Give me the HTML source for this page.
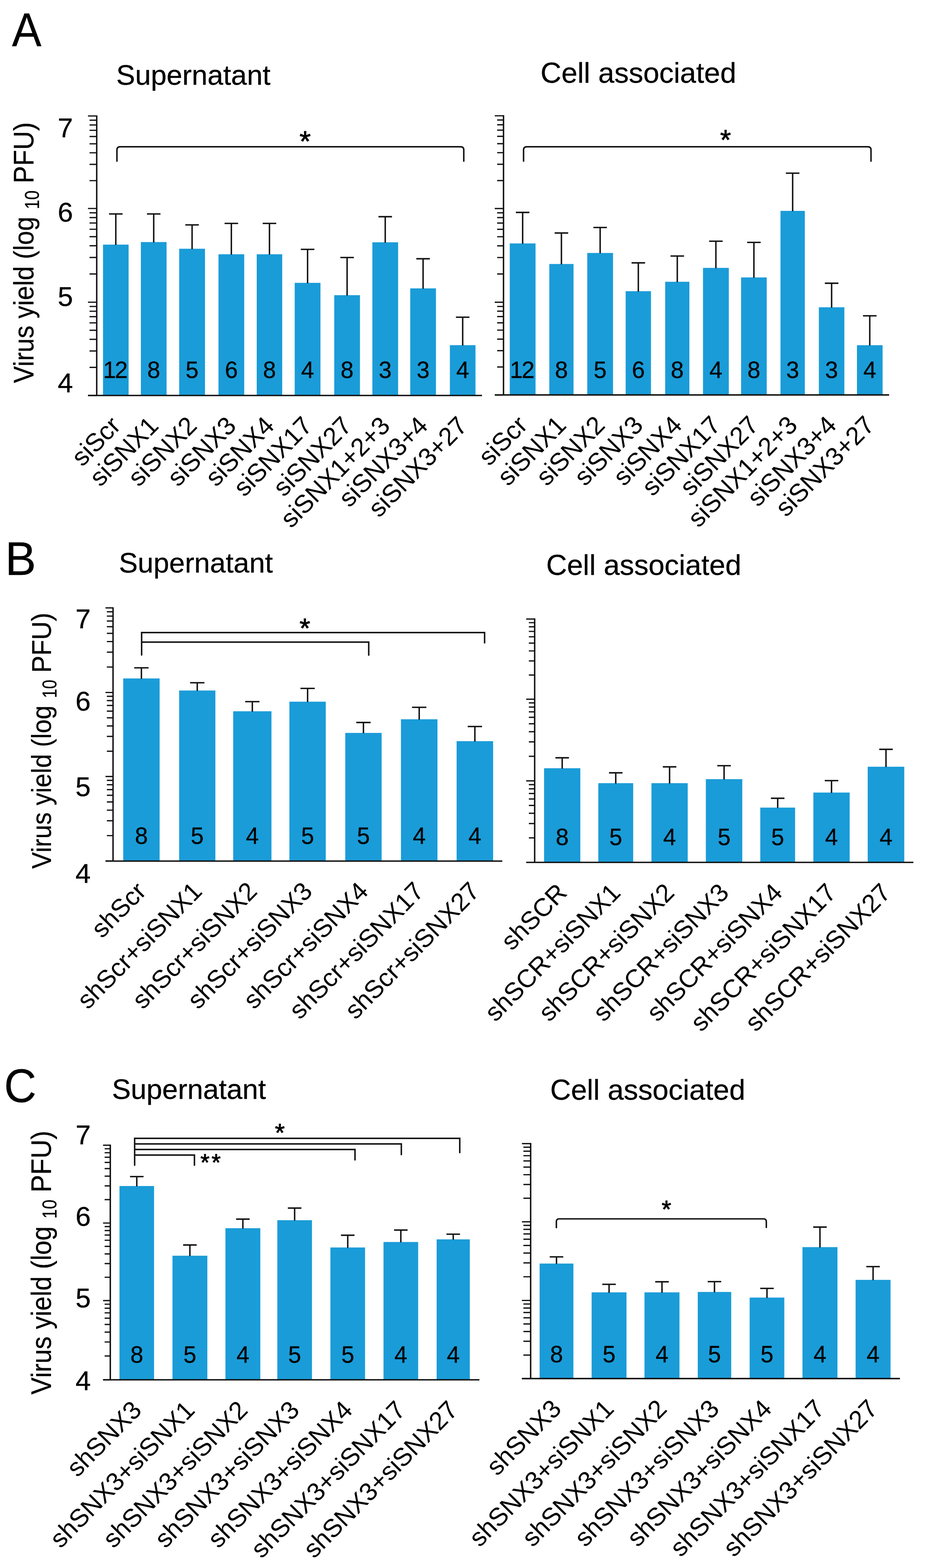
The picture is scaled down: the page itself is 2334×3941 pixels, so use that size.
<!DOCTYPE html>
<html><head><meta charset="utf-8"><style>
html,body{margin:0;padding:0;background:#fff;overflow:hidden;}
svg{display:block;}
</style></head><body>
<svg width="2334" height="3941" viewBox="0 0 2334 3941">
<rect width="2334" height="3941" fill="#fff"/>
<style>.b{stroke:#000;stroke-width:0.4px}</style>
<g font-family="'Liberation Sans', Arial, Helvetica, sans-serif" fill="#000">
<rect x="258.8" y="614.8" width="64.3" height="379.2" fill="#1a9cd8"/>
<rect x="353.9" y="608.4" width="64.6" height="385.6" fill="#1a9cd8"/>
<rect x="450.2" y="625.2" width="64.8" height="368.8" fill="#1a9cd8"/>
<rect x="548.9" y="639.1" width="64.7" height="354.9" fill="#1a9cd8"/>
<rect x="645" y="639.1" width="64" height="354.9" fill="#1a9cd8"/>
<rect x="740.4" y="710.9" width="64.7" height="283.1" fill="#1a9cd8"/>
<rect x="839.7" y="741.9" width="64.7" height="252.1" fill="#1a9cd8"/>
<rect x="935.5" y="609" width="64.7" height="385" fill="#1a9cd8"/>
<rect x="1030.6" y="724.8" width="64.7" height="269.2" fill="#1a9cd8"/>
<rect x="1130.3" y="867.5" width="64.3" height="126.5" fill="#1a9cd8"/>
<path d="M290.95 615.8V537.8M273.95 537.8H307.95M386.2 609.4V537.8M369.2 537.8H403.2M482.6 626.2V565.3M465.6 565.3H499.6M581.25 640.1V561.5M564.25 561.5H598.25M677 640.1V561.5M660 561.5H694M772.75 711.9V626.8M755.75 626.8H789.75M872.05 742.9V647.2M855.05 647.2H889.05M967.85 610V544.6M950.85 544.6H984.85M1062.95 725.8V650.4M1045.95 650.4H1079.95M1162.45 868.5V797.2M1145.45 797.2H1179.45" stroke="#111" stroke-width="3.6" fill="none"/>
<path d="M221 994H243M221 759.5H243M221 524H243M221 291.5H243M225 923.41H243M225 882.12H243M225 852.82H243M225 830.09H243M225 811.52H243M225 795.82H243M225 782.23H243M225 770.23H243M225 688.61H243M225 647.14H243M225 617.71H243M225 594.89H243M225 576.25H243M225 560.48H243M225 546.82H243M225 534.78H243M225 454.01H243M225 413.07H243M225 384.02H243M225 361.49H243M225 343.08H243M225 327.51H243M225 314.03H243M225 302.14H243" stroke="#111" stroke-width="3.2" fill="none"/>
<path d="M243 290V994 M221 994H1211" stroke="#111" stroke-width="3.6" fill="none"/>
<text class="b" x="288.45" y="950" font-size="58.5" text-anchor="middle" letter-spacing="-3">12</text>
<text class="b" x="386.2" y="950" font-size="58.5" text-anchor="middle">8</text>
<text class="b" x="482.6" y="950" font-size="58.5" text-anchor="middle">5</text>
<text class="b" x="581.25" y="950" font-size="58.5" text-anchor="middle">6</text>
<text class="b" x="677" y="950" font-size="58.5" text-anchor="middle">8</text>
<text class="b" x="772.75" y="950" font-size="58.5" text-anchor="middle">4</text>
<text class="b" x="872.05" y="950" font-size="58.5" text-anchor="middle">8</text>
<text class="b" x="967.85" y="950" font-size="58.5" text-anchor="middle">3</text>
<text class="b" x="1062.95" y="950" font-size="58.5" text-anchor="middle">3</text>
<text class="b" x="1162.45" y="950" font-size="58.5" text-anchor="middle">4</text>
<text transform="translate(306.45 1073.5) rotate(-45.5)" font-size="64" text-anchor="end">siScr</text>
<text transform="translate(401.7 1073.5) rotate(-45.5)" font-size="64" text-anchor="end">siSNX1</text>
<text transform="translate(498.1 1073.5) rotate(-45.5)" font-size="64" text-anchor="end">siSNX2</text>
<text transform="translate(596.75 1073.5) rotate(-45.5)" font-size="64" text-anchor="end">siSNX3</text>
<text transform="translate(692.5 1073.5) rotate(-45.5)" font-size="64" text-anchor="end">siSNX4</text>
<text transform="translate(788.25 1073.5) rotate(-45.5)" font-size="64" text-anchor="end">siSNX17</text>
<text transform="translate(887.55 1073.5) rotate(-45.5)" font-size="64" text-anchor="end">siSNX27</text>
<text transform="translate(983.35 1073.5) rotate(-45.5)" font-size="64" text-anchor="end">siSNX1+2+3</text>
<text transform="translate(1078.45 1073.5) rotate(-45.5)" font-size="64" text-anchor="end">siSNX3+4</text>
<text transform="translate(1177.95 1073.5) rotate(-45.5)" font-size="64" text-anchor="end">siSNX3+27</text>
<rect x="1280.7" y="611.8" width="64.8" height="380.8" fill="#1a9cd8"/>
<rect x="1380.1" y="663.5" width="60.8" height="329.1" fill="#1a9cd8"/>
<rect x="1475.4" y="635.8" width="64.8" height="356.8" fill="#1a9cd8"/>
<rect x="1571.9" y="731.9" width="63.6" height="260.7" fill="#1a9cd8"/>
<rect x="1671.2" y="708.2" width="60.8" height="284.4" fill="#1a9cd8"/>
<rect x="1766.2" y="673.3" width="64.8" height="319.3" fill="#1a9cd8"/>
<rect x="1861.9" y="697.3" width="64.4" height="295.3" fill="#1a9cd8"/>
<rect x="1960.9" y="530" width="61.1" height="462.6" fill="#1a9cd8"/>
<rect x="2057.3" y="772.3" width="64.1" height="220.3" fill="#1a9cd8"/>
<rect x="2153" y="867.6" width="64.4" height="125" fill="#1a9cd8"/>
<path d="M1313.1 612.8V533.9M1296.1 533.9H1330.1M1410.5 664.5V585.6M1393.5 585.6H1427.5M1507.8 636.8V571.8M1490.8 571.8H1524.8M1603.7 732.9V660.6M1586.7 660.6H1620.7M1701.6 709.2V643.5M1684.6 643.5H1718.6M1798.6 674.3V606.3M1781.6 606.3H1815.6M1894.1 698.3V609.3M1877.1 609.3H1911.1M1991.45 531V435.3M1974.45 435.3H2008.45M2089.35 773.3V711.9M2072.35 711.9H2106.35M2185.2 868.6V793.8M2168.2 793.8H2202.2" stroke="#111" stroke-width="3.6" fill="none"/>
<path d="M1243 992.6H1265M1243 759.6H1265M1243 524.1H1265M1243 291H1265M1249 922.46H1265M1249 881.43H1265M1249 852.32H1265M1249 829.74H1265M1249 811.29H1265M1249 795.69H1265M1249 782.18H1265M1249 770.26H1265M1249 688.71H1265M1249 647.24H1265M1249 617.81H1265M1249 594.99H1265M1249 576.35H1265M1249 560.58H1265M1249 546.92H1265M1249 534.88H1265M1249 453.93H1265M1249 412.88H1265M1249 383.76H1265M1249 361.17H1265M1249 342.71H1265M1249 327.11H1265M1249 313.59H1265M1249 301.67H1265" stroke="#111" stroke-width="3.2" fill="none"/>
<path d="M1265 289.5V992.6 M1243 992.6H2233.8" stroke="#111" stroke-width="3.6" fill="none"/>
<text class="b" x="1310.6" y="950" font-size="58.5" text-anchor="middle" letter-spacing="-3">12</text>
<text class="b" x="1410.5" y="950" font-size="58.5" text-anchor="middle">8</text>
<text class="b" x="1507.8" y="950" font-size="58.5" text-anchor="middle">5</text>
<text class="b" x="1603.7" y="950" font-size="58.5" text-anchor="middle">6</text>
<text class="b" x="1701.6" y="950" font-size="58.5" text-anchor="middle">8</text>
<text class="b" x="1798.6" y="950" font-size="58.5" text-anchor="middle">4</text>
<text class="b" x="1894.1" y="950" font-size="58.5" text-anchor="middle">8</text>
<text class="b" x="1991.45" y="950" font-size="58.5" text-anchor="middle">3</text>
<text class="b" x="2089.35" y="950" font-size="58.5" text-anchor="middle">3</text>
<text class="b" x="2185.2" y="950" font-size="58.5" text-anchor="middle">4</text>
<text transform="translate(1328.6 1072.1) rotate(-45.5)" font-size="64" text-anchor="end">siScr</text>
<text transform="translate(1426 1072.1) rotate(-45.5)" font-size="64" text-anchor="end">siSNX1</text>
<text transform="translate(1523.3 1072.1) rotate(-45.5)" font-size="64" text-anchor="end">siSNX2</text>
<text transform="translate(1619.2 1072.1) rotate(-45.5)" font-size="64" text-anchor="end">siSNX3</text>
<text transform="translate(1717.1 1072.1) rotate(-45.5)" font-size="64" text-anchor="end">siSNX4</text>
<text transform="translate(1814.1 1072.1) rotate(-45.5)" font-size="64" text-anchor="end">siSNX17</text>
<text transform="translate(1909.6 1072.1) rotate(-45.5)" font-size="64" text-anchor="end">siSNX27</text>
<text transform="translate(2006.95 1072.1) rotate(-45.5)" font-size="64" text-anchor="end">siSNX1+2+3</text>
<text transform="translate(2104.85 1072.1) rotate(-45.5)" font-size="64" text-anchor="end">siSNX3+4</text>
<text transform="translate(2200.7 1072.1) rotate(-45.5)" font-size="64" text-anchor="end">siSNX3+27</text>
<rect x="309.6" y="1705.2" width="91.4" height="459" fill="#1a9cd8"/>
<rect x="450.1" y="1735.5" width="91" height="428.7" fill="#1a9cd8"/>
<rect x="585.9" y="1787.7" width="96.1" height="376.5" fill="#1a9cd8"/>
<rect x="727.1" y="1763.6" width="91.4" height="400.6" fill="#1a9cd8"/>
<rect x="867.4" y="1842.1" width="91.4" height="322.1" fill="#1a9cd8"/>
<rect x="1007.3" y="1807.8" width="91.8" height="356.4" fill="#1a9cd8"/>
<rect x="1147.2" y="1862.8" width="91.7" height="301.4" fill="#1a9cd8"/>
<path d="M355.3 1706.2V1678.5M337.3 1678.5H373.3M495.6 1736.5V1716M477.6 1716H513.6M633.95 1788.7V1763.5M615.95 1763.5H651.95M772.8 1764.6V1730.3M754.8 1730.3H790.8M913.1 1843.1V1815.9M895.1 1815.9H931.1M1053.2 1808.8V1777.8M1035.2 1777.8H1071.2M1193.05 1863.8V1826M1175.05 1826H1211.05" stroke="#111" stroke-width="3.6" fill="none"/>
<path d="M265 2164.2H284M265 1951.7H284M265 1740.5H284M265 1527.9H284M268.5 2100.23H284M268.5 2062.81H284M268.5 2036.26H284M268.5 2015.67H284M268.5 1998.84H284M268.5 1984.62H284M268.5 1972.29H284M268.5 1961.42H284M268.5 1888.12H284M268.5 1850.93H284M268.5 1824.54H284M268.5 1804.08H284M268.5 1787.35H284M268.5 1773.22H284M268.5 1760.97H284M268.5 1750.16H284M268.5 1676.5H284M268.5 1639.06H284M268.5 1612.5H284M268.5 1591.9H284M268.5 1575.07H284M268.5 1560.83H284M268.5 1548.5H284M268.5 1537.63H284" stroke="#111" stroke-width="3.2" fill="none"/>
<path d="M284 1526.4V2164.2 M265 2164.2H1262" stroke="#111" stroke-width="3.6" fill="none"/>
<text class="b" x="355.3" y="2121" font-size="58.5" text-anchor="middle">8</text>
<text class="b" x="495.6" y="2121" font-size="58.5" text-anchor="middle">5</text>
<text class="b" x="633.95" y="2121" font-size="58.5" text-anchor="middle">4</text>
<text class="b" x="772.8" y="2121" font-size="58.5" text-anchor="middle">5</text>
<text class="b" x="913.1" y="2121" font-size="58.5" text-anchor="middle">5</text>
<text class="b" x="1053.2" y="2121" font-size="58.5" text-anchor="middle">4</text>
<text class="b" x="1193.05" y="2121" font-size="58.5" text-anchor="middle">4</text>
<text transform="translate(370.8 2243.7) rotate(-45.5)" font-size="64" text-anchor="end">shScr</text>
<text transform="translate(511.1 2243.7) rotate(-45.5)" font-size="64" text-anchor="end">shScr+siSNX1</text>
<text transform="translate(649.45 2243.7) rotate(-45.5)" font-size="64" text-anchor="end">shScr+siSNX2</text>
<text transform="translate(788.3 2243.7) rotate(-45.5)" font-size="64" text-anchor="end">shScr+siSNX3</text>
<text transform="translate(928.6 2243.7) rotate(-45.5)" font-size="64" text-anchor="end">shScr+siSNX4</text>
<text transform="translate(1068.7 2243.7) rotate(-45.5)" font-size="64" text-anchor="end">shScr+siSNX17</text>
<text transform="translate(1208.55 2243.7) rotate(-45.5)" font-size="64" text-anchor="end">shScr+siSNX27</text>
<rect x="1366.9" y="1930.9" width="91.1" height="236.6" fill="#1a9cd8"/>
<rect x="1503.2" y="1968.4" width="87.6" height="199.1" fill="#1a9cd8"/>
<rect x="1636.7" y="1968.4" width="91.1" height="199.1" fill="#1a9cd8"/>
<rect x="1773.4" y="1958.3" width="91.5" height="209.2" fill="#1a9cd8"/>
<rect x="1910.1" y="2029.8" width="87.5" height="137.7" fill="#1a9cd8"/>
<rect x="2043.5" y="1992" width="91.2" height="175.5" fill="#1a9cd8"/>
<rect x="2180" y="1927.1" width="91.9" height="240.4" fill="#1a9cd8"/>
<path d="M1412.45 1931.9V1904.6M1395.45 1904.6H1429.45M1547 1969.4V1942.4M1530 1942.4H1564M1682.25 1969.4V1927.4M1665.25 1927.4H1699.25M1819.15 1959.3V1924.5M1802.15 1924.5H1836.15M1953.85 2030.8V2006.4M1936.85 2006.4H1970.85M2089.1 1993V1962M2072.1 1962H2106.1M2225.95 1928.1V1883.4M2208.95 1883.4H2242.95" stroke="#111" stroke-width="3.6" fill="none"/>
<path d="M1322 2167.5H1343.3M1322 1962.7H1343.3M1322 1757.3H1343.3M1322 1555.8H1343.3M1328.7 2105.85H1343.3M1328.7 2069.79H1343.3M1328.7 2044.2H1343.3M1328.7 2024.35H1343.3M1328.7 2008.13H1343.3M1328.7 1994.42H1343.3M1328.7 1982.55H1343.3M1328.7 1972.07H1343.3M1328.7 1900.87H1343.3M1328.7 1864.7H1343.3M1328.7 1839.04H1343.3M1328.7 1819.13H1343.3M1328.7 1802.87H1343.3M1328.7 1789.12H1343.3M1328.7 1777.21H1343.3M1328.7 1766.7H1343.3M1328.7 1696.64H1343.3M1328.7 1661.16H1343.3M1328.7 1635.98H1343.3M1328.7 1616.46H1343.3M1328.7 1600.5H1343.3M1328.7 1587.01H1343.3M1328.7 1575.33H1343.3M1328.7 1565.02H1343.3" stroke="#111" stroke-width="3.2" fill="none"/>
<path d="M1343.3 1554.3V2167.5 M1322 2167.5H2294.8" stroke="#111" stroke-width="3.6" fill="none"/>
<text class="b" x="1412.45" y="2124" font-size="58.5" text-anchor="middle">8</text>
<text class="b" x="1547" y="2124" font-size="58.5" text-anchor="middle">5</text>
<text class="b" x="1682.25" y="2124" font-size="58.5" text-anchor="middle">4</text>
<text class="b" x="1819.15" y="2124" font-size="58.5" text-anchor="middle">5</text>
<text class="b" x="1953.85" y="2124" font-size="58.5" text-anchor="middle">5</text>
<text class="b" x="2089.1" y="2124" font-size="58.5" text-anchor="middle">4</text>
<text class="b" x="2225.95" y="2124" font-size="58.5" text-anchor="middle">4</text>
<text transform="translate(1427.95 2247) rotate(-45.5)" font-size="64" text-anchor="end">shSCR</text>
<text transform="translate(1562.5 2247) rotate(-45.5)" font-size="64" text-anchor="end">shSCR+siSNX1</text>
<text transform="translate(1697.75 2247) rotate(-45.5)" font-size="64" text-anchor="end">shSCR+siSNX2</text>
<text transform="translate(1834.65 2247) rotate(-45.5)" font-size="64" text-anchor="end">shSCR+siSNX3</text>
<text transform="translate(1969.35 2247) rotate(-45.5)" font-size="64" text-anchor="end">shSCR+siSNX4</text>
<text transform="translate(2104.6 2247) rotate(-45.5)" font-size="64" text-anchor="end">shSCR+siSNX17</text>
<text transform="translate(2241.45 2247) rotate(-45.5)" font-size="64" text-anchor="end">shSCR+siSNX27</text>
<rect x="300.2" y="2980.9" width="86.9" height="487.1" fill="#1a9cd8"/>
<rect x="433.3" y="3156.1" width="87.6" height="311.9" fill="#1a9cd8"/>
<rect x="566.4" y="3087" width="87.6" height="381" fill="#1a9cd8"/>
<rect x="696.7" y="3066.8" width="87.1" height="401.2" fill="#1a9cd8"/>
<rect x="830.1" y="3135.4" width="87.1" height="332.6" fill="#1a9cd8"/>
<rect x="963.5" y="3121.6" width="87.1" height="346.4" fill="#1a9cd8"/>
<rect x="1097" y="3115" width="83.4" height="353" fill="#1a9cd8"/>
<path d="M343.65 2981.9V2957.3M326.65 2957.3H360.65M477.1 3157.1V3129.1M460.1 3129.1H494.1M610.2 3088V3064.1M593.2 3064.1H627.2M740.25 3067.8V3036.4M723.25 3036.4H757.25M873.65 3136.4V3104.6M856.65 3104.6H890.65M1007.05 3122.6V3091.6M990.05 3091.6H1024.05M1138.7 3116V3102M1121.7 3102H1155.7" stroke="#111" stroke-width="3.6" fill="none"/>
<path d="M258.9 3468H277.1M258.9 3268.9H277.1M258.9 3074H277.1M258.9 2878.3H277.1M262.9 3408.06H277.1M262.9 3373.01H277.1M262.9 3348.13H277.1M262.9 3328.84H277.1M262.9 3313.07H277.1M262.9 3299.74H277.1M262.9 3288.19H277.1M262.9 3278.01H277.1M262.9 3210.23H277.1M262.9 3175.91H277.1M262.9 3151.56H277.1M262.9 3132.67H277.1M262.9 3117.24H277.1M262.9 3104.19H277.1M262.9 3092.89H277.1M262.9 3082.92H277.1M262.9 3015.09H277.1M262.9 2980.63H277.1M262.9 2956.18H277.1M262.9 2937.21H277.1M262.9 2921.72H277.1M262.9 2908.61H277.1M262.9 2897.27H277.1M262.9 2887.25H277.1" stroke="#111" stroke-width="3.2" fill="none"/>
<path d="M277.1 2876.8V3468 M258.9 3468H1204.5" stroke="#111" stroke-width="3.6" fill="none"/>
<text class="b" x="343.65" y="3425" font-size="58.5" text-anchor="middle">8</text>
<text class="b" x="477.1" y="3425" font-size="58.5" text-anchor="middle">5</text>
<text class="b" x="610.2" y="3425" font-size="58.5" text-anchor="middle">4</text>
<text class="b" x="740.25" y="3425" font-size="58.5" text-anchor="middle">5</text>
<text class="b" x="873.65" y="3425" font-size="58.5" text-anchor="middle">5</text>
<text class="b" x="1007.05" y="3425" font-size="58.5" text-anchor="middle">4</text>
<text class="b" x="1138.7" y="3425" font-size="58.5" text-anchor="middle">4</text>
<text transform="translate(359.15 3547.5) rotate(-45.5)" font-size="64" text-anchor="end">shSNX3</text>
<text transform="translate(492.6 3547.5) rotate(-45.5)" font-size="64" text-anchor="end">shSNX3+siSNX1</text>
<text transform="translate(625.7 3547.5) rotate(-45.5)" font-size="64" text-anchor="end">shSNX3+siSNX2</text>
<text transform="translate(755.75 3547.5) rotate(-45.5)" font-size="64" text-anchor="end">shSNX3+siSNX3</text>
<text transform="translate(889.15 3547.5) rotate(-45.5)" font-size="64" text-anchor="end">shSNX3+siSNX4</text>
<text transform="translate(1022.55 3547.5) rotate(-45.5)" font-size="64" text-anchor="end">shSNX3+siSNX17</text>
<text transform="translate(1154.2 3547.5) rotate(-45.5)" font-size="64" text-anchor="end">shSNX3+siSNX27</text>
<rect x="1355.7" y="3175.8" width="84.9" height="289.1" fill="#1a9cd8"/>
<rect x="1486.4" y="3248.2" width="87.6" height="216.7" fill="#1a9cd8"/>
<rect x="1619.2" y="3248.2" width="87.9" height="216.7" fill="#1a9cd8"/>
<rect x="1753" y="3247.2" width="84.1" height="217.7" fill="#1a9cd8"/>
<rect x="1883.4" y="3261.3" width="87.1" height="203.6" fill="#1a9cd8"/>
<rect x="2016.1" y="3134.5" width="87.9" height="330.4" fill="#1a9cd8"/>
<rect x="2149.6" y="3216.8" width="87.8" height="248.1" fill="#1a9cd8"/>
<path d="M1398.15 3176.8V3159M1381.15 3159H1415.15M1530.2 3249.2V3228M1513.2 3228H1547.2M1663.15 3249.2V3221.6M1646.15 3221.6H1680.15M1795.05 3248.2V3221.3M1778.05 3221.3H1812.05M1926.95 3262.3V3238.3M1909.95 3238.3H1943.95M2060.05 3135.5V3084.1M2043.05 3084.1H2077.05M2193.5 3217.8V3183.5M2176.5 3183.5H2210.5" stroke="#111" stroke-width="3.6" fill="none"/>
<path d="M1311.3 3464.9H1333.2M1311.3 3268.5H1333.2M1311.3 3070.8H1333.2M1311.3 2874.3H1333.2M1315 3405.78H1333.2M1315 3371.19H1333.2M1315 3346.66H1333.2M1315 3327.62H1333.2M1315 3312.07H1333.2M1315 3298.92H1333.2M1315 3287.53H1333.2M1315 3277.49H1333.2M1315 3208.99H1333.2M1315 3174.17H1333.2M1315 3149.47H1333.2M1315 3130.31H1333.2M1315 3114.66H1333.2M1315 3101.42H1333.2M1315 3089.96H1333.2M1315 3079.85H1333.2M1315 3011.65H1333.2M1315 2977.05H1333.2M1315 2952.5H1333.2M1315 2933.45H1333.2M1315 2917.89H1333.2M1315 2904.74H1333.2M1315 2893.34H1333.2M1315 2883.29H1333.2" stroke="#111" stroke-width="3.2" fill="none"/>
<path d="M1333.2 2872.8V3464.9 M1311.3 3464.9H2261" stroke="#111" stroke-width="3.6" fill="none"/>
<text class="b" x="1398.15" y="3424" font-size="58.5" text-anchor="middle">8</text>
<text class="b" x="1530.2" y="3424" font-size="58.5" text-anchor="middle">5</text>
<text class="b" x="1663.15" y="3424" font-size="58.5" text-anchor="middle">4</text>
<text class="b" x="1795.05" y="3424" font-size="58.5" text-anchor="middle">5</text>
<text class="b" x="1926.95" y="3424" font-size="58.5" text-anchor="middle">5</text>
<text class="b" x="2060.05" y="3424" font-size="58.5" text-anchor="middle">4</text>
<text class="b" x="2193.5" y="3424" font-size="58.5" text-anchor="middle">4</text>
<text transform="translate(1413.65 3544.4) rotate(-45.5)" font-size="64" text-anchor="end">shSNX3</text>
<text transform="translate(1545.7 3544.4) rotate(-45.5)" font-size="64" text-anchor="end">shSNX3+siSNX1</text>
<text transform="translate(1678.65 3544.4) rotate(-45.5)" font-size="64" text-anchor="end">shSNX3+siSNX2</text>
<text transform="translate(1810.55 3544.4) rotate(-45.5)" font-size="64" text-anchor="end">shSNX3+siSNX3</text>
<text transform="translate(1942.45 3544.4) rotate(-45.5)" font-size="64" text-anchor="end">shSNX3+siSNX4</text>
<text transform="translate(2075.55 3544.4) rotate(-45.5)" font-size="64" text-anchor="end">shSNX3+siSNX17</text>
<text transform="translate(2209 3544.4) rotate(-45.5)" font-size="64" text-anchor="end">shSNX3+siSNX27</text>
<path d="M293.8 405V376.8Q293.8 368.8 301.8 368.8H1157.2Q1165.2 368.8 1165.2 376.8V405M1315.4 405V376.8Q1315.4 368.8 1323.4 368.8H2180.3Q2188.3 368.8 2188.3 376.8V405M355.8 1646.2V1589.9H1217.5V1615.7M355.8 1613.9H926.4V1646.4M338.3 2928.6V2861.2H1155.1V2897M338.3 2875.2H1008.3V2901.9M338.3 2889.1H891.9V2915.2M338.3 2903.1H488.5V2928.6M1397.8 3085.5V3070.5Q1397.8 3063.5 1404.8 3063.5H1918.3Q1925.3 3063.5 1925.3 3070.5V3085" stroke="#111" stroke-width="3.7" fill="none" stroke-linecap="round"/>
<text x="766.7" y="380.09" font-size="72.6" text-anchor="middle" stroke="#000" stroke-width="1.3" stroke-linejoin="round">*</text>
<text x="1822.9" y="375.55" font-size="70" text-anchor="middle" stroke="#000" stroke-width="1.3" stroke-linejoin="round">*</text>
<text x="766" y="1601.74" font-size="69" text-anchor="middle" stroke="#000" stroke-width="1.3" stroke-linejoin="round">*</text>
<text x="703.2" y="2868.35" font-size="63.4" text-anchor="middle" stroke="#000" stroke-width="1.3" stroke-linejoin="round">*</text>
<text x="515" y="2941.69" font-size="59" text-anchor="middle" stroke="#000" stroke-width="1.3" stroke-linejoin="round">*</text>
<text x="543.1" y="2941.69" font-size="59" text-anchor="middle" stroke="#000" stroke-width="1.3" stroke-linejoin="round">*</text>
<text x="1674.3" y="3059.93" font-size="62" text-anchor="middle" stroke="#000" stroke-width="1.3" stroke-linejoin="round">*</text>
<text class="b" x="292.05" y="212.6" font-size="71.1">Supernatant</text>
<text class="b" x="1358.08" y="207.6" font-size="72.5">Cell associated</text>
<text class="b" x="298.65" y="1439.3" font-size="71">Supernatant</text>
<text class="b" x="1372.18" y="1444.6" font-size="72.3">Cell associated</text>
<text class="b" x="281.25" y="2762.2" font-size="71">Supernatant</text>
<text class="b" x="1382.18" y="2764" font-size="72.3">Cell associated</text>
<text class="b" transform="translate(30.1 115.7) scale(0.942 1)" font-size="118">A</text>
<text class="b" transform="translate(12.85 1445.2) scale(0.99 1)" font-size="118">B</text>
<text class="b" transform="translate(10.28 2770.4) scale(0.953 1)" font-size="118">C</text>
<text class="b" x="183.3" y="345" font-size="69" text-anchor="end">7</text>
<text class="b" x="183.3" y="556.5" font-size="69" text-anchor="end">6</text>
<text class="b" x="183.3" y="768.5" font-size="69" text-anchor="end">5</text>
<text class="b" x="183.3" y="986" font-size="69" text-anchor="end">4</text>
<text class="b" x="227.9" y="1578.8" font-size="69" text-anchor="end">7</text>
<text class="b" x="227.9" y="1785.5" font-size="69" text-anchor="end">6</text>
<text class="b" x="227.9" y="2000.5" font-size="69" text-anchor="end">5</text>
<text class="b" x="227.9" y="2219" font-size="69" text-anchor="end">4</text>
<text class="b" x="228.2" y="2875.6" font-size="69" text-anchor="end">7</text>
<text class="b" x="228.2" y="3081" font-size="69" text-anchor="end">6</text>
<text class="b" x="228.2" y="3286" font-size="69" text-anchor="end">5</text>
<text class="b" x="228.2" y="3494" font-size="69" text-anchor="end">4</text>
<text class="b" transform="translate(83.8 962.7) rotate(-90) scale(0.92 1)" font-size="69.5">Virus yield (log</text>
<text class="b" transform="translate(98.2 525.8) rotate(-90) scale(0.85 1)" font-size="50">10</text>
<text class="b" transform="translate(83.8 461) rotate(-90) scale(0.949 1)" font-size="69.5">PFU)</text>
<text class="b" transform="translate(128.2 2183.59) rotate(-90) scale(0.92 1)" font-size="68.24">Virus yield (log</text>
<text class="b" transform="translate(142.34 1754.61) rotate(-90) scale(0.85 1)" font-size="49.09">10</text>
<text class="b" transform="translate(128.2 1690.99) rotate(-90) scale(0.949 1)" font-size="68.24">PFU)</text>
<text class="b" transform="translate(127.5 3505) rotate(-90) scale(0.92 1)" font-size="70.32">Virus yield (log</text>
<text class="b" transform="translate(142.07 3062.94) rotate(-90) scale(0.85 1)" font-size="50.59">10</text>
<text class="b" transform="translate(127.5 2997.37) rotate(-90) scale(0.949 1)" font-size="70.32">PFU)</text>
</g></svg>
</body></html>
